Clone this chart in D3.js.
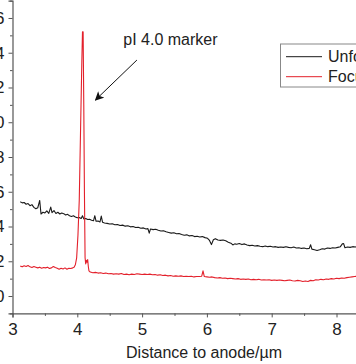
<!DOCTYPE html>
<html>
<head>
<meta charset="utf-8">
<script src="https://cdn.jsdelivr.net/npm/d3@7/dist/d3.min.js"></script>
<style>
  html, body { margin: 0; padding: 0; background: #fff; overflow: hidden; }
  svg { display: block; font-family: "Liberation Sans", Arial, sans-serif; }
</style>
</head>
<body>
<svg id="chart" width="356" height="364"></svg>
<script>
// ---- data ----
const xTicks = [3, 4, 5, 6, 7, 8];
const yTicks = [0, 2, 4, 6, 8, 10, 12, 14, 16];
const seriesNames = ["Unfocused", "Focused"];
const seriesColors = ["#1a1a1a", "#e3202b"];

const unfocusedX = [3.12,3.15,3.18,3.21,3.24,3.27,3.30,3.33,3.36,3.39,3.42,3.44,3.47,3.50,3.53,3.56,3.59,3.61,3.64,3.67,3.70,3.73,3.76,3.79,3.82,3.85,3.88,3.91,3.94,3.97,4.00,4.03,4.06,4.08,4.10,4.13,4.16,4.19,4.22,4.25,4.27,4.29,4.32,4.35,4.37,4.39,4.42,4.46,4.50,4.54,4.58,4.62,4.66,4.70,4.74,4.78,4.82,4.86,4.90,4.94,4.98,5.02,5.06,5.09,5.11,5.13,5.17,5.21,5.25,5.29,5.33,5.37,5.41,5.45,5.49,5.53,5.57,5.61,5.65,5.69,5.73,5.77,5.81,5.85,5.89,5.93,5.97,6.01,6.04,6.07,6.10,6.13,6.17,6.21,6.25,6.29,6.33,6.37,6.40,6.43,6.46,6.50,6.54,6.58,6.62,6.66,6.70,6.74,6.78,6.82,6.86,6.90,6.94,6.98,7.02,7.06,7.10,7.14,7.18,7.22,7.26,7.30,7.34,7.38,7.42,7.46,7.50,7.54,7.58,7.60,7.62,7.66,7.70,7.74,7.78,7.82,7.86,7.90,7.94,7.98,8.02,8.06,8.09,8.11,8.13,8.17,8.21,8.25,8.29,8.33,8.37,8.41,8.45];
const unfocusedY = [5.42,5.36,5.38,5.28,5.32,5.20,5.26,5.10,5.02,5.08,5.50,4.72,4.82,4.78,4.90,4.76,5.12,4.80,4.92,4.75,4.82,4.72,4.78,4.74,4.66,4.70,4.62,4.58,4.62,4.55,4.50,4.52,4.46,4.62,4.44,4.46,4.40,4.42,4.36,4.33,4.62,4.30,4.32,4.26,4.60,4.24,4.20,4.18,4.14,4.16,4.10,4.12,4.06,4.08,4.02,4.04,3.98,4.00,3.94,3.96,3.90,3.92,3.86,3.88,3.62,3.86,3.82,3.84,3.78,3.74,3.76,3.70,3.66,3.62,3.64,3.58,3.60,3.54,3.50,3.52,3.46,3.48,3.42,3.44,3.40,3.42,3.36,3.32,3.20,2.96,3.24,3.30,3.22,3.20,3.22,3.18,3.10,3.04,2.94,3.00,2.98,3.02,2.96,3.00,2.94,2.90,2.92,2.88,2.90,2.86,2.84,2.88,2.84,2.86,2.82,2.84,2.80,2.82,2.80,2.84,2.80,2.78,2.82,2.76,2.78,2.74,2.76,2.72,2.74,2.95,2.70,2.66,2.62,2.66,2.72,2.70,2.76,2.74,2.78,2.76,2.80,2.84,3.00,3.02,2.78,2.82,2.80,2.84,2.82,2.86,2.84,2.86,2.84];

const focusedX = [3.12,3.15,3.18,3.21,3.24,3.27,3.30,3.33,3.36,3.39,3.42,3.45,3.48,3.51,3.54,3.57,3.60,3.63,3.66,3.69,3.72,3.75,3.78,3.81,3.84,3.87,3.90,3.93,3.95,3.97,3.99,4.01,4.03,4.05,4.07,4.08,4.09,4.10,4.11,4.12,4.13,4.14,4.15,4.16,4.17,4.18,4.20,4.24,4.28,4.32,4.36,4.40,4.44,4.48,4.52,4.56,4.60,4.64,4.68,4.72,4.76,4.80,4.84,4.88,4.92,4.96,5.00,5.04,5.08,5.12,5.16,5.20,5.24,5.28,5.32,5.36,5.40,5.44,5.48,5.52,5.56,5.60,5.64,5.68,5.72,5.76,5.80,5.84,5.88,5.92,5.94,5.96,6.00,6.04,6.08,6.12,6.16,6.20,6.24,6.28,6.32,6.36,6.40,6.44,6.48,6.52,6.56,6.60,6.64,6.68,6.72,6.76,6.80,6.84,6.88,6.92,6.96,7.00,7.04,7.08,7.12,7.16,7.20,7.24,7.28,7.32,7.36,7.40,7.44,7.48,7.52,7.56,7.60,7.64,7.68,7.72,7.76,7.80,7.84,7.88,7.92,7.96,8.00,8.04,8.08,8.12,8.16,8.20,8.24,8.28,8.32,8.36,8.40,8.45];
const focusedY = [1.72,1.68,1.74,1.70,1.76,1.68,1.64,1.70,1.66,1.62,1.66,1.60,1.64,1.62,1.66,1.58,1.62,1.70,1.64,1.60,1.54,1.60,1.56,1.62,1.54,1.60,1.58,1.62,1.66,1.80,2.20,3.50,5.50,9.50,13.5,15.2,15.2,11.0,6.0,2.2,1.85,2.05,1.95,2.10,1.70,1.45,1.38,1.34,1.36,1.32,1.34,1.30,1.32,1.28,1.30,1.26,1.28,1.26,1.30,1.24,1.26,1.22,1.26,1.24,1.28,1.26,1.24,1.26,1.24,1.26,1.22,1.24,1.20,1.22,1.18,1.20,1.16,1.18,1.14,1.16,1.14,1.16,1.12,1.14,1.12,1.14,1.10,1.12,1.12,1.14,1.45,1.12,1.10,1.08,1.10,1.06,1.04,1.06,1.02,1.04,1.00,1.02,1.00,0.98,1.00,0.96,0.98,0.96,0.98,0.94,0.96,0.94,0.96,0.92,0.94,0.92,0.94,0.90,0.92,0.90,0.92,0.90,0.88,0.90,0.92,0.88,0.86,0.90,0.88,0.84,0.86,0.84,0.90,0.88,0.94,0.92,0.96,0.94,0.98,0.96,1.00,0.98,1.02,1.00,1.04,1.02,1.06,1.08,1.10,1.12,1.14,1.12,1.14,1.14];

// annotation (data units)
const annotationText = "pI 4.0 marker";
const annotationPos = [4.71, 14.42];
const arrowFrom = [4.92, 13.58];
const arrowTo = [4.28, 11.28];

const xTitle = "Distance to anode/µm";

// ---- drawing ----
const svg = d3.select("#chart");
const x = d3.scaleLinear().domain([3, 8.5]).range([12.5, 368.9]);
const y = d3.scaleLinear().domain([-1, 17]).range([313.4, 0.6]);

const axisColor = "#555";
const font = "Liberation Sans, Arial, sans-serif";

svg.append("defs").append("marker")
  .attr("id", "arrowhead").attr("viewBox", "0 0 10 10")
  .attr("refX", 9).attr("refY", 5)
  .attr("markerWidth", 9).attr("markerHeight", 9)
  .attr("markerUnits", "userSpaceOnUse")
  .attr("orient", "auto")
  .append("path").attr("d", "M0,0 L10,5 L0,10 L2.5,5 Z").attr("fill", "#111");

// minor ticks
const xMinor = d3.range(3, 8.6, 0.5).filter(v => !xTicks.includes(v));
const yMinor = d3.range(-1, 17.1, 1).filter(v => !yTicks.includes(v));

// x axis
const gx = svg.append("g").attr("transform", `translate(0,${y(-1)})`);
gx.call(d3.axisBottom(x).tickValues(xTicks).tickSize(4).tickPadding(6).tickFormat(d3.format("d")));
gx.append("g").call(d3.axisBottom(x).tickValues(xMinor).tickSize(2.5).tickFormat(""))
  .select(".domain").remove();
gx.selectAll(".domain").attr("stroke", axisColor).attr("stroke-width", 1.2);
gx.selectAll(".tick line").attr("stroke", axisColor).attr("stroke-width", 1);
gx.selectAll(".tick text").attr("font-size", 17).attr("font-family", font).attr("fill", "#222");

// y axis
const gy = svg.append("g").attr("transform", `translate(${x(3)},0)`);
gy.call(d3.axisLeft(y).tickValues(yTicks).tickSize(4).tickPadding(4).tickFormat(d3.format("d")));
gy.append("g").call(d3.axisLeft(y).tickValues(yMinor).tickSize(2.5).tickFormat(""))
  .select(".domain").remove();
gy.selectAll(".domain").attr("stroke", axisColor).attr("stroke-width", 1.2);
gy.selectAll(".tick line").attr("stroke", axisColor).attr("stroke-width", 1);
gy.selectAll(".tick text").attr("font-size", 17).attr("font-family", font).attr("fill", "#222");

// x title
svg.append("text").attr("x", 204).attr("y", 358)
  .attr("text-anchor", "middle").attr("font-size", 16).attr("font-family", font)
  .attr("fill", "#222").text(xTitle);

// series
const line = d3.line().x(d => x(d[0])).y(d => y(d[1]));
const series = [
  d3.zip(unfocusedX, unfocusedY),
  d3.zip(focusedX, focusedY)
];
series.forEach((pts, i) => {
  svg.append("path").datum(pts)
    .attr("fill", "none").attr("stroke", seriesColors[i])
    .attr("stroke-width", 1.1).attr("stroke-linejoin", "round")
    .attr("d", line);
});

// annotation
svg.append("text").attr("x", x(annotationPos[0])).attr("y", y(annotationPos[1]))
  .attr("font-size", 16).attr("font-family", font).attr("fill", "#222")
  .text(annotationText);
svg.append("line")
  .attr("x1", x(arrowFrom[0])).attr("y1", y(arrowFrom[1]))
  .attr("x2", x(arrowTo[0])).attr("y2", y(arrowTo[1]))
  .attr("stroke", "#111").attr("stroke-width", 1)
  .attr("marker-end", "url(#arrowhead)");

// legend
const lg = svg.append("g").attr("transform", "translate(280.5,44)");
lg.append("rect").attr("width", 110).attr("height", 43)
  .attr("fill", "#fff").attr("stroke", "#888").attr("stroke-width", 1);
seriesNames.forEach((name, i) => {
  const yy = 12.7 + i * 20;
  lg.append("line").attr("x1", 5.5).attr("x2", 41.5).attr("y1", yy).attr("y2", yy)
    .attr("stroke", seriesColors[i]).attr("stroke-width", 1);
  lg.append("text").attr("x", 47.5).attr("y", yy + 5.5)
    .attr("font-size", 16).attr("font-family", font).attr("fill", "#222").text(name);
});
</script>
</body>
</html>
